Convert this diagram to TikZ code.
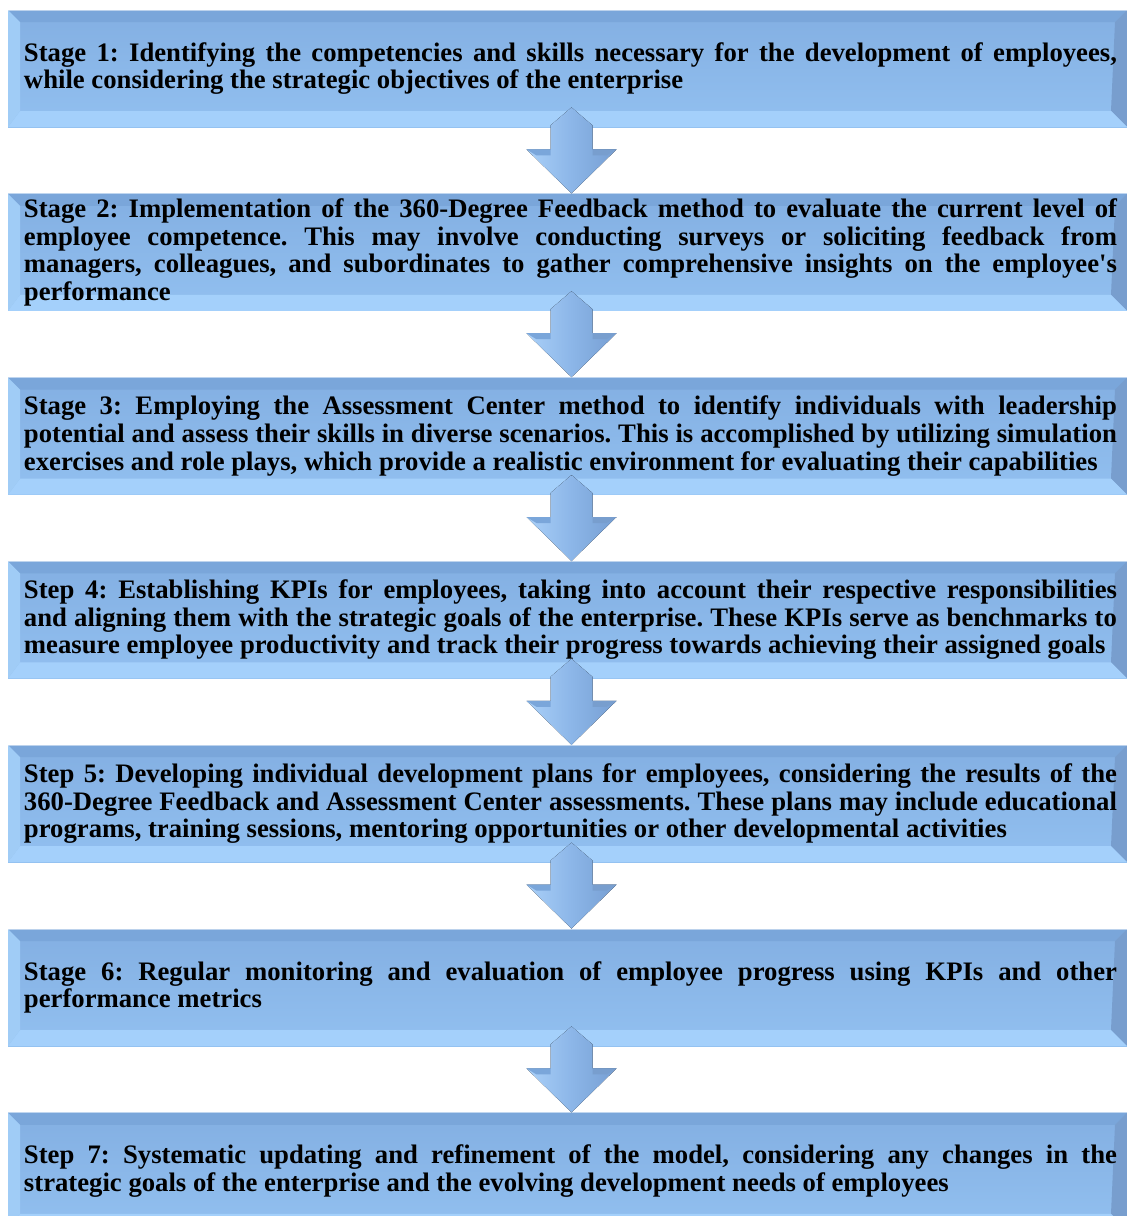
\documentclass[tikz,border=0pt]{standalone}
\usepackage{fontspec}
\setmainfont{Liberation Serif}
\usetikzlibrary{calc, positioning}

\definecolor{boxtop}{RGB}{131,175,226}
\definecolor{boxbot}{RGB}{146,192,240}
\definecolor{bevtop}{RGB}{122,166,218}
\definecolor{bevleft}{RGB}{160,204,246}
\definecolor{bevright}{RGB}{120,158,206}
\definecolor{bevbot}{RGB}{164,208,251}
\definecolor{arrlight}{RGB}{170,208,248}
\definecolor{arrmid}{RGB}{140,182,232}
\definecolor{arrdark}{RGB}{118,158,210}

\hyphenpenalty=10000
\frenchspacing

% fat bevelled arrow from one stage box down to the next
\newcommand{\stagearrow}[2]{%
  \fill[left color=arrlight, right color=arrmid]
    ($(#1.south)+(2pt,10pt)$) -- ($(#1.south)+(-8.5pt,1pt)$) -- ($(#1.south)+(-8.5pt,-11pt)$)
    -- ($(#1.south)+(-20.5pt,-11pt)$) -- ($(#2.north)+(2pt,0pt)$) -- cycle;
  \fill[left color=arrmid, right color=arrdark]
    ($(#1.south)+(2pt,10pt)$) -- ($(#1.south)+(12.5pt,1pt)$) -- ($(#1.south)+(12.5pt,-11pt)$)
    -- ($(#1.south)+(24.5pt,-11pt)$) -- ($(#2.north)+(2pt,0pt)$) -- cycle;
  \fill[bevtop] ($(#1.south)+(-20.5pt,-11pt)$) -- ($(#1.south)+(-8.5pt,-11pt)$)
    -- ($(#1.south)+(-8.5pt,-14pt)$) -- ($(#1.south)+(-15.5pt,-14pt)$) -- cycle;
  \fill[bevright] ($(#1.south)+(24.5pt,-11pt)$) -- ($(#1.south)+(12.5pt,-11pt)$)
    -- ($(#1.south)+(12.5pt,-14pt)$) -- ($(#1.south)+(19.5pt,-14pt)$) -- cycle;
}

\begin{document}
\begin{tikzpicture}
    % Style definitions
    \tikzset{stagebox/.style={rectangle, top color=boxtop, bottom color=boxbot,
        minimum width=559.5pt, minimum height=58.5pt, inner xsep=5pt, inner ysep=0pt,
        text width=549.5pt, align=justify,
        font=\fontsize{13.35}{13.8}\selectfont\bfseries,
        path picture={
          \def\bb{path picture bounding box}
          \fill[bevtop] (\bb.north west) -- (\bb.north east) -- ($(\bb.north east)+(-6pt,-6pt)$) -- ($(\bb.north west)+(6pt,-6pt)$) -- cycle;
          \fill[bevright] (\bb.north east) -- (\bb.south east) -- ($(\bb.south east)+(-8pt,8pt)$) -- ($(\bb.north east)+(-6pt,-6pt)$) -- cycle;
          \fill[bevbot] (\bb.south west) -- (\bb.south east) -- ($(\bb.south east)+(-8pt,8pt)$) -- ($(\bb.south west)+(6pt,8pt)$) -- cycle;
          \fill[bevleft] (\bb.north west) -- (\bb.south west) -- ($(\bb.south west)+(6pt,8pt)$) -- ($(\bb.north west)+(6pt,-6pt)$) -- cycle;
          \draw[white, opacity=0.5, line width=0.6pt] (\bb.north west) -- (\bb.north east);
        }}}

    \useasboundingbox (0,0) rectangle (563pt,-608pt);

    % Nodes
    \node [stagebox] (s1) at (283.75pt,-34.25pt) {\hspace*{3pt}Stage 1: Identifying the competencies and skills necessary for the development of employees,\linebreak
        \hspace*{3pt}while considering the strategic objectives of the enterprise};
    \node [stagebox, below=33pt of s1] (s2) {\hspace*{3pt}Stage 2: Implementation of the 360-Degree Feedback method to evaluate the current level of\linebreak
        \hspace*{3pt}employee competence. This may involve conducting surveys or soliciting feedback from\linebreak
        \hspace*{3pt}managers, colleagues, and subordinates to gather comprehensive insights on the employee\textquotesingle s\linebreak
        \hspace*{3pt}performance};
    \node [stagebox, below=33pt of s2] (s3) {\hspace*{3pt}Stage 3: Employing the Assessment Center method to identify individuals with leadership\linebreak
        \hspace*{3pt}potential and assess their skills in diverse scenarios. This is accomplished by utilizing simulation\linebreak
        \hspace*{3pt}exercises and role plays, which provide a realistic environment for evaluating their capabilities};
    \node [stagebox, below=33pt of s3] (s4) {\hspace*{3pt}Step 4: Establishing KPIs for employees, taking into account their respective responsibilities\linebreak
        \hspace*{3pt}and aligning them with the strategic goals of the enterprise. These KPIs serve as benchmarks to\linebreak
        \hspace*{3pt}measure employee productivity and track their progress towards achieving their assigned goals};
    \node [stagebox, below=33pt of s4] (s5) {\hspace*{3pt}Step 5: Developing individual development plans for employees, considering the results of the\linebreak
        \hspace*{3pt}360-Degree Feedback and Assessment Center assessments. These plans may include educational\linebreak
        \hspace*{3pt}programs, training sessions, mentoring opportunities or other developmental activities};
    \node [stagebox, below=33pt of s5] (s6) {\hspace*{3pt}Stage 6: Regular monitoring and evaluation of employee progress using KPIs and other\linebreak
        \hspace*{3pt}performance metrics};
    \node [stagebox, below=33pt of s6] (s7) {\hspace*{3pt}Step 7: Systematic updating and refinement of the model, considering any changes in the\linebreak
        \hspace*{3pt}strategic goals of the enterprise and the evolving development needs of employees};

    % Arrows
    \stagearrow{s1}{s2}
    \stagearrow{s2}{s3}
    \stagearrow{s3}{s4}
    \stagearrow{s4}{s5}
    \stagearrow{s5}{s6}
    \stagearrow{s6}{s7}
\end{tikzpicture}
\end{document}
